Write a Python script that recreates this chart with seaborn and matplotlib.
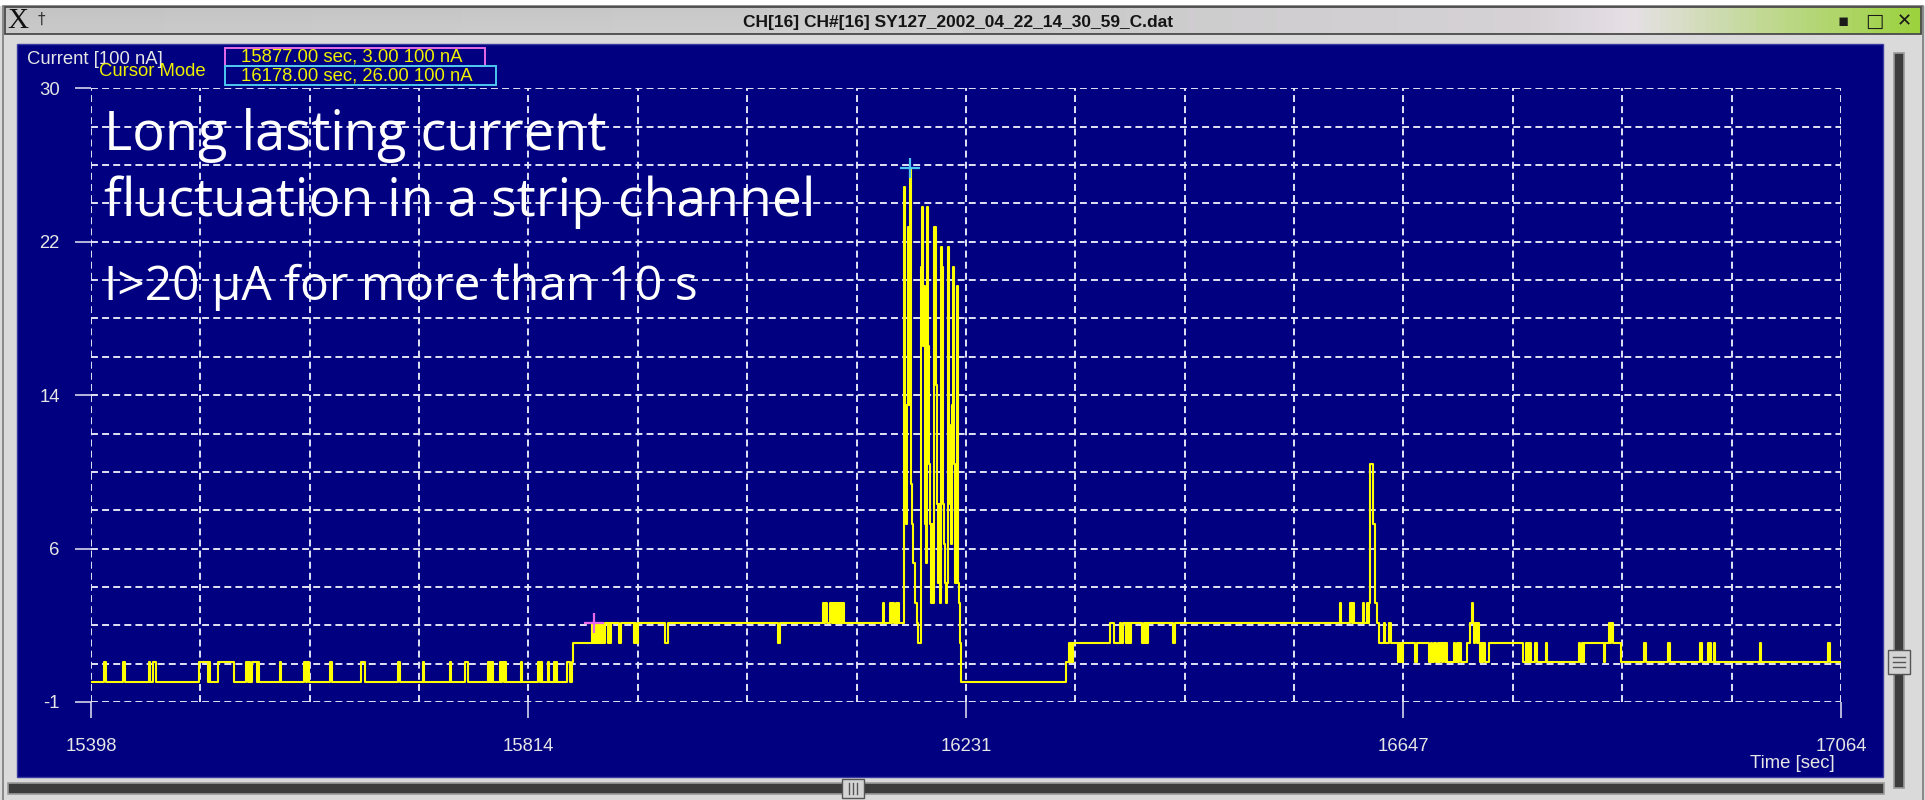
import numpy as np
import pandas as pd
import matplotlib
matplotlib.use("Agg")
import matplotlib.pyplot as plt
from matplotlib.patches import Rectangle
from matplotlib.colors import LinearSegmentedColormap
import seaborn as sns

plt.rcParams["lines.scale_dashes"] = False

# ---- strip channel current: step change points (time [sec], current [100 nA]) ----
change_time = [
    15398, 15410, 15412, 15428, 15430, 15453, 15454, 15457, 15460,
    15501, 15509, 15510, 15511, 15519, 15534,
    15546, 15547, 15548, 15549, 15551, 15556, 15557, 15558,
    15578, 15579, 15601, 15603, 15604, 15606, 15626, 15627,
    15655, 15659, 15690, 15692, 15714, 15715, 15740, 15741,
    15754, 15757, 15776, 15777, 15778, 15779, 15780, 15781,
    15787, 15788, 15789, 15791, 15792, 15793, 15807, 15808,
    15824, 15825, 15826, 15827, 15833, 15834, 15839, 15840, 15841, 15842,
    15851, 15854, 15856, 15857,
    15875, 15876, 15877, 15878, 15879, 15880, 15882, 15883, 15884, 15885,
    15887, 15890, 15891, 15892, 15893,
    15901, 15903, 15915, 15916, 15917, 15919, 15944, 15947, 16052, 16054,
    16095, 16096, 16097, 16099,
    16102, 16103, 16104, 16105, 16106, 16107, 16108, 16109, 16110, 16111,
    16112, 16113, 16114, 16115,
    16152, 16153, 16159, 16160, 16161, 16162, 16164, 16165, 16166, 16167,
    16172, 16173, 16174, 16175, 16176, 16177, 16178, 16179, 16180, 16181,
    16182, 16183, 16184, 16185, 16186, 16187, 16188, 16189, 16190, 16191,
    16192, 16193, 16194, 16195, 16196, 16197, 16198, 16199, 16200, 16201,
    16202, 16203, 16204, 16205, 16206, 16207, 16208, 16209, 16210, 16211,
    16212, 16213, 16214, 16215, 16216, 16217, 16218, 16219, 16220, 16221,
    16222, 16223, 16224, 16225, 16226,
    16326, 16329, 16330, 16331, 16332, 16333,
    16368, 16372, 16378, 16379, 16380, 16383, 16384, 16385, 16386, 16387, 16388,
    16399, 16400, 16401, 16402, 16403, 16404, 16428, 16430,
    16587, 16588, 16597, 16598, 16599, 16600, 16609, 16610,
    16613, 16614, 16615, 16616, 16618, 16620, 16622, 16624,
    16629, 16630, 16634, 16636,
    16642, 16643, 16644, 16645, 16646, 16647, 16658, 16660,
    16672, 16674, 16675, 16677, 16678,
    16680, 16681, 16682, 16684, 16685, 16687, 16688, 16689,
    16696, 16697, 16698, 16699, 16700, 16702, 16708, 16711, 16713,
    16714, 16715, 16716, 16717, 16718, 16719, 16720, 16721, 16722, 16723, 16725,
    16729, 16761, 16764, 16765, 16766, 16767, 16768, 16769, 16773, 16775,
    16783, 16784, 16815, 16816, 16817, 16818, 16819, 16838, 16839,
    16843, 16844, 16845, 16847, 16855, 16876, 16878, 16899, 16901,
    16930, 16932, 16937, 16938, 16939, 16940, 16943, 16944,
    16987, 16988, 17052, 17054, 17063,
]
change_current = [
    0, 1, 0, 1, 0, 1, 0, 1, 0,
    1, 0, 1, 0, 1, 0,
    1, 0, 1, 0, 1, 0, 1, 0,
    1, 0, 1, 0, 1, 0, 1, 0,
    1, 0, 1, 0, 1, 0, 1, 0,
    1, 0, 1, 0, 1, 0, 1, 0,
    1, 0, 1, 0, 1, 0, 1, 0,
    1, 0, 1, 0, 1, 0, 1, 0, 1, 0,
    1, 0, 1, 2,
    3, 2, 3, 2, 3, 2, 3, 2, 3, 2,
    3, 2, 3, 2, 3,
    2, 3, 2, 3, 2, 3, 2, 3, 2, 3,
    4, 3, 4, 3,
    4, 3, 4, 3, 4, 3, 4, 3, 4, 3,
    4, 3, 4, 3,
    4, 3, 4, 3, 4, 3, 4, 3, 4, 3,
    25, 14, 8, 14, 23, 14, 26, 10, 8, 6,
    4, 4, 3, 2, 2, 2, 21, 24, 17, 20,
    8, 6, 24, 17, 11, 8, 4, 8, 4, 23,
    15, 9, 5, 9, 4, 22, 21, 9, 7, 5,
    4, 5, 22, 13, 9, 7, 14, 21, 11, 5,
    20, 5, 4, 2, 0,
    1, 2, 1, 2, 1, 2,
    3, 2, 3, 2, 3, 2, 3, 2, 3, 2, 3,
    2, 3, 2, 3, 2, 3, 2, 3,
    4, 3, 4, 3, 4, 3, 4, 3,
    4, 3, 4, 11, 8, 4, 3, 2,
    3, 2, 3, 2,
    1, 2, 1, 2, 1, 2, 1, 2,
    1, 2, 1, 2, 1,
    2, 1, 2, 1, 2, 1, 2, 1,
    2, 1, 2, 1, 2, 1, 2, 3, 4,
    3, 2, 3, 2, 3, 2, 1, 2, 1, 2, 1,
    2, 1, 2, 1, 2, 1, 2, 1, 2, 1,
    2, 1, 2, 1, 2, 1, 2, 1, 2,
    3, 2, 3, 2, 1, 2, 1, 2, 1,
    2, 1, 2, 1, 2, 1, 2, 1,
    2, 1, 2, 1, 1,
]

# cursor readouts (time [sec], current [100 nA])
cursor_time = [15877.0, 16178.0]
cursor_current = [3.0, 26.0]
cursor_colors = ["#e86ae8", "#4cc8f0"]

x_range = (15398, 17064)
y_range = (-1, 30)
x_tick_labels = ["15398", "15814", "16231", "16647", "17064"]
y_tick_labels = ["30", "22", "14", "6", "-1"]

title = "CH[16] CH#[16] SY127_2002_04_22_14_30_59_C.dat"
note_lines = ["Long lasting current", "fluctuation in a strip channel"]
note_detail = "I>20 \u03bcA for more than 10 s"

# ---- figure, pixel helpers ----
W, H = 1925, 800
fig = plt.figure(figsize=(W / 100, H / 100), dpi=100)
fig.patch.set_facecolor("#dadada")


def fx(x):
    return x / W


def fy(y):
    return 1 - y / H


def rect(x0, y0, x1, y1, **kw):
    r = Rectangle((fx(x0), fy(y1)), (x1 - x0) / W, (y1 - y0) / H,
                  transform=fig.transFigure, **kw)
    fig.add_artist(r)
    return r


def line(xs, ys, **kw):
    fig.add_artist(plt.Line2D([fx(v) for v in xs], [fy(v) for v in ys],
                              transform=fig.transFigure, **kw))


UI = ["Liberation Sans", "DejaVu Sans"]

# window frame
rect(0, 0, W, 6, facecolor="#ffffff", edgecolor="none", zorder=-3)
rect(3, 6, W - 2, H + 2, facecolor="none", edgecolor="#7a7a7a", lw=1.2, zorder=-3)

# title bar with gradient
tb = fig.add_axes([fx(5), fy(34), (W - 8) / W, 27 / H], zorder=-2)
grad_cmap = LinearSegmentedColormap.from_list(
    "tbar", [(0.0, "#c4c4c4"), (0.55, "#cbcbcb"), (0.80, "#d6d2d6"),
             (0.85, "#e6e0e6"), (0.93, "#bcd888"), (1.0, "#9cd23e")])
grad = np.tile(np.linspace(0, 1, 600), (8, 1))
shade = np.linspace(0.0, 1.0, 8)[:, None]
tb.imshow(grad, aspect="auto", cmap=grad_cmap, extent=[0, 1, 0, 1])
tb.imshow(np.ones((8, 2)), aspect="auto", cmap="gray", alpha=0.10 * shade,
          extent=[0, 1, 0, 1], vmin=0, vmax=1)
tb.set_xlim(0, 1)
tb.set_ylim(0, 1)
tb.axis("off")
rect(5, 7, W - 4, 34, facecolor="none", edgecolor="#4a4a4a", lw=1.3, zorder=2)

fig.text(fx(958), fy(22), title, ha="center", va="center", fontsize=12.5,
         fontweight="bold", family=UI, color="#141414")
fig.text(fx(18), fy(21), "X", ha="center", va="center", fontsize=21,
         family=["Liberation Serif", "DejaVu Serif"], color="#111111")
fig.text(fx(41), fy(19), "\u2020", ha="center", va="center", fontsize=11,
         family=["DejaVu Sans"], color="#333333")
fig.text(fx(1843), fy(21), "\u25aa", ha="center", va="center", fontsize=12,
         family=["DejaVu Sans"], color="#1a1a1a")
fig.text(fx(1874), fy(21), "\u25a1", ha="center", va="center", fontsize=14,
         fontweight="bold", family=["DejaVu Sans"], color="#1a1a1a")
fig.text(fx(1904), fy(21), "\u2715", ha="center", va="center", fontsize=13,
         fontweight="bold", family=["DejaVu Sans"], color="#1a1a1a")

# plot panel
rect(17, 44, 1883, 777, facecolor="#000080", edgecolor="#3a3aa0", lw=1.0, zorder=-1)

# scrollbars
rect(8, 783, 1884, 794, facecolor="#3c3c3c", edgecolor="#9a9a9a", lw=1.2, zorder=-1)
rect(842, 779, 864, 798, facecolor="#d4d4d4", edgecolor="#555555", lw=1.0, zorder=3)
for gx in (849, 853, 857):
    line([gx, gx], [783, 794], color="#555555", lw=1.0, zorder=4)
rect(1894, 53, 1904, 788, facecolor="#3c3c3c", edgecolor="#9a9a9a", lw=1.2, zorder=-1)
rect(1888, 650, 1910, 674, facecolor="#d4d4d4", edgecolor="#555555", lw=1.0, zorder=3)
for gy in (657, 662, 667):
    line([1893, 1905], [gy, gy], color="#555555", lw=1.0, zorder=4)

# ---- data axes ----
ax = fig.add_axes([fx(91), fy(702), (1841 - 91) / W, (702 - 88.4) / H])
ax.patch.set_alpha(0)
for s in ax.spines.values():
    s.set_visible(False)

trace = pd.DataFrame({"time": change_time, "current": change_current})
sns.lineplot(data=trace, x="time", y="current", estimator=None,
             drawstyle="steps-post", color="#ffff00", linewidth=1.5,
             ax=ax, legend=False, zorder=3)

for t, c, col in zip(cursor_time, cursor_current, cursor_colors):
    ax.plot([t], [c], marker="+", ms=15, mew=1.6, color=col, zorder=4)

ax.set_xlim(*x_range)
ax.set_ylim(*y_range)
ax.set_xlabel("")
ax.set_ylabel("")

ax.set_xticks(np.linspace(x_range[0], x_range[1], 5), labels=x_tick_labels)
ax.set_yticks(np.linspace(y_range[1], y_range[0], 5), labels=y_tick_labels)
ax.set_xticks(np.linspace(x_range[0], x_range[1], 17), minor=True)
ax.set_yticks(np.linspace(y_range[0], y_range[1], 17), minor=True)

grid_kw = dict(color="#e2e2f6", linestyle=(0, (5.0, 3.0)), linewidth=1.4)
ax.grid(which="minor", **grid_kw)
ax.grid(which="major", **grid_kw)
ax.tick_params(which="minor", length=0)
ax.tick_params(which="major", direction="out", length=11.5, width=1.1,
               color="#e6e6f4", labelcolor="#e6e6e6", labelsize=13.3)
ax.tick_params(axis="x", which="major", pad=14.5)
ax.tick_params(axis="y", which="major", pad=11)
for lab in ax.get_xticklabels() + ax.get_yticklabels():
    lab.set_family(UI)

# axis captions and cursor readouts
fig.text(fx(27), fy(60), "Current [100 nA]", ha="left", va="center",
         fontsize=13.3, family=UI, color="#e6e6e6")
fig.text(fx(99), fy(72), "Cursor Mode", ha="left", va="center",
         fontsize=13.3, family=UI, color="#f0f000")
fig.text(fx(1835), fy(764), "Time [sec]", ha="right", va="center",
         fontsize=13.3, family=UI, color="#e6e6e6")

boxes = [(48, 66, 485), (66, 85, 496)]
for (y0, y1, x1), t, c, col in zip(boxes, cursor_time, cursor_current, cursor_colors):
    rect(225, y0, x1, y1, facecolor="none", edgecolor=col, lw=1.4, zorder=3)
    fig.text(fx(241), fy((y0 + y1) / 2 + 0.5), f"{t:.2f} sec, {c:.2f} 100 nA",
             ha="left", va="center", fontsize=13.3, family=UI, color="#f0f000")

# annotation
NOTE = ["Open Sans", "DejaVu Sans"]
fig.text(fx(104), fy(150), note_lines[0], ha="left", va="baseline",
         fontsize=39, family=NOTE, color="white")
fig.text(fx(104), fy(216), note_lines[1], ha="left", va="baseline",
         fontsize=38.5, family=NOTE, color="white")
fig.text(fx(104), fy(300), note_detail, ha="left", va="baseline",
         fontsize=34.5, family=NOTE, color="white")

fig.savefig("out.png", dpi=100, facecolor=fig.get_facecolor())
